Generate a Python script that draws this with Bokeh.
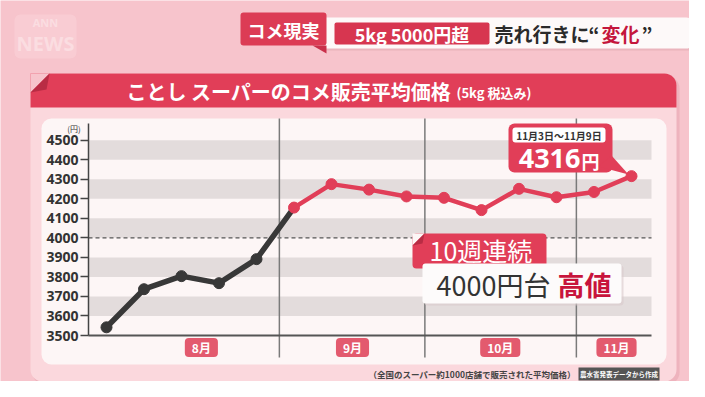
from bokeh.plotting import figure
from bokeh.models import Range1d, LinearAxis, FixedTicker, Label
from bokeh.core.properties import value
from bokeh.embed import file_html
from bokeh.resources import INLINE

# ---------------- data ----------------
weeks = list(range(15))                      # weekly observations (index)
prices = [3542, 3737, 3804, 3768, 3891, 4155, 4275, 4247, 4212, 4205,
          4142, 4251, 4208, 4235, 4316]      # yen / 5kg
streak_start = 5                              # first week at 4000-yen level
months = ["8月", "9月", "10月", "11月"]
month_centers = [2.53, 6.56, 10.5, 13.6]      # in week index units
month_bounds = [4.61, 8.49, 12.53]
y_ticks = list(range(3500, 4501, 100))
band_bottoms = [3600, 3800, 4000, 4200, 4400]
band_tops = [3700, 3900, 4100, 4300, 4500]
last_period = "11月3日～11月9日"

# ---------------- layout helpers ----------------
W, H = 689, 381
JP = "Noto Sans CJK JP"
BG = "#f7c4cc"
PANEL = "#fbd8dd"
WHITE = "#fdf6f6"
RED = "#e13e58"
DARK = "#383838"
BAND = "#e3dcdc"


def cx(px):
    return px


def cy(py):
    return H - py


p = figure(width=W, height=H, x_range=Range1d(0, W), y_range=Range1d(0, H),
           output_backend="svg", toolbar_location=None, min_border=0,
           x_axis_location=None, y_axis_location=None,
           background_fill_color=BG, border_fill_color=BG, outline_line_color=None)
p.grid.visible = False

# data ranges mapped onto the plotting area
PXW = 37.5          # px per week
PXY = 0.1953        # px per yen
wk_start = -cx(106) / PXW
p.extra_x_ranges = {"wk": Range1d(wk_start, wk_start + W / PXW)}
pr_start = 3500 - cy(335) / PXY
p.extra_y_ranges = {"price": Range1d(pr_start, pr_start + H / PXY)}


def box(l, r, t, b, color, radius=0, alpha=1.0):
    p.quad(left=cx(l), right=cx(r), top=cy(t), bottom=cy(b), fill_color=color,
           fill_alpha=alpha, line_color=None, border_radius=radius)


def poly(pts, color, alpha=1.0):
    p.patch(x=[cx(a) for a, b in pts], y=[cy(b) for a, b in pts],
            fill_color=color, fill_alpha=alpha, line_color=None)


def txt(x, y, s, size, color, bold=False, align="left", font=JP):
    p.text(x=[cx(x)], y=[cy(y)], text=[s], text_font=value(font),
           text_font_size=f"{size}px", text_color=color,
           text_font_style="bold" if bold else "normal",
           text_align=align, text_baseline="middle")


# ---------------- background / header ----------------
box(14, 76, 14, 58, "#f9d0d6", radius=6, alpha=0.7)
txt(45, 22, "ANN", 11, "#fbdde1", bold=True, align="center", font="Noto Sans")
txt(45, 43, "NEWS", 20, "#fbdde1", bold=True, align="center", font="Noto Sans")

box(320, 692, 19, 50, "#e3aab3", radius=4, alpha=0.6)
box(318, 690, 17, 48, "#fdf9f9", radius=4)
box(240, 326, 12, 45, "#dc3c55", radius=3)
poly([(312, 45), (326, 45), (326, 53)], "#c9304a")
txt(283, 29, "コメ現実", 18, "white", bold=True, align="center")
box(334, 489, 22, 44, "#d73650", radius=2)
txt(411.5, 33.5, "5kg 5000円超", 18, "white", bold=True, align="center")
txt(494, 33, "売れ行きに", 19, "#2a2a2a", bold=True)
txt(588, 33, "“", 19, "#2a2a2a", bold=True)
txt(601, 33, "変化", 19, "#c4163c", bold=True)
txt(641, 33, "”", 19, "#2a2a2a", bold=True)

# ---------------- panel ----------------
box(32, 679, 76, 384, "#e8a9b3", radius=12, alpha=0.6)
box(30, 676, 73, 381, PANEL, radius=12)
box(30, 676, 73, 107, RED, radius=(0, 12, 0, 0))
poly([(30, 73), (49, 73), (30, 92)], BG)
poly([(49, 73), (30, 92), (46, 89)], "#b92c44")
txt(126, 91, "ことし スーパーのコメ販売平均価格", 20, "white", bold=True)
txt(456, 92, "(5kg 税込み)", 13, "white", bold=True)

box(41, 666, 118, 364, WHITE, radius=10)

# ---------------- chart ----------------
p.quad(left=cx(88), right=cx(651), bottom=band_bottoms, top=band_tops,
       y_range_name="price", fill_color=BAND, line_color=None)
p.segment(x0=cx(88), x1=cx(651), y0=4000, y1=4000, y_range_name="price",
          line_color="#555555", line_width=1.3, line_dash="4 3")
p.segment(x0=month_bounds, x1=month_bounds, y0=cy(118), y1=cy(357),
          x_range_name="wk", line_color="#7a7a7a", line_width=1.5)

yax = LinearAxis(y_range_name="price", fixed_location=cx(88), bounds=(3500, 4585),
                 ticker=FixedTicker(ticks=y_ticks), axis_line_color="#444444",
                 axis_line_width=1.5, major_tick_line_color="#444444",
                 major_tick_line_width=1.5, major_tick_out=8, major_tick_in=0,
                 minor_tick_line_color=None, major_label_standoff=2,
                 major_label_text_font="Noto Sans", major_label_text_font_size="14px",
                 major_label_text_font_style="bold", major_label_text_color="#333333")
p.add_layout(yax, "left")
xax = LinearAxis(y_range_name="price", fixed_location=3500, bounds=(cx(88), cx(651)),
                 ticker=FixedTicker(ticks=[]), axis_line_color="#555555",
                 axis_line_width=2, major_tick_line_color=None,
                 minor_tick_line_color=None, major_label_text_font_size="0px")
p.add_layout(xax, "below")
txt(73.5, 128, "(円)", 8, "#333333", align="center")

p.line(x=weeks[:streak_start + 1], y=prices[:streak_start + 1], x_range_name="wk",
       y_range_name="price", line_color=DARK, line_width=5.5)
p.line(x=weeks[streak_start:], y=prices[streak_start:], x_range_name="wk",
       y_range_name="price", line_color=RED, line_width=4.5)
p.scatter(x=weeks[:streak_start], y=prices[:streak_start], x_range_name="wk",
          y_range_name="price", size=11, fill_color=DARK, line_color=DARK)
p.scatter(x=weeks[streak_start:], y=prices[streak_start:], x_range_name="wk",
          y_range_name="price", size=11, fill_color=RED, line_color=RED)

for m, c in zip(months, month_centers):
    p.add_layout(Label(x=c, y=cy(347), x_range_name="wk", text=m, text_align="center",
                       text_baseline="middle", text_color="white", text_font=JP,
                       text_font_size="12px", text_font_style="bold",
                       background_fill_color="#e35a6e", border_radius=4,
                       padding=dict(left=7, right=7, top=1, bottom=1)))

# ---------------- callouts ----------------
box(508, 612, 123, 172, RED, radius=6)
poly([(598, 166), (611, 155), (628, 174)], RED)
box(512, 605, 127, 142, "white", radius=3)
txt(558.5, 134.5, last_period, 10, "#333333", bold=True, align="center")
txt(580, 158, f"{prices[-1]}", 27, "white", bold=True, align="right", font="Noto Sans")
txt(581, 160, "円", 18, "white", bold=True)

box(412, 546, 233, 268, RED, radius=4)
poly([(412, 233), (424, 233), (412, 245)], WHITE)
poly([(424, 233), (412, 245), (422, 243)], "#b92c44")
txt(429, 249, f"{len(prices) - streak_start}週連続", 25, "white")
box(424, 623, 265, 305, "#d9c9cb", radius=3, alpha=0.6)
box(422, 621, 263, 303, "#fdfbfb", radius=3)
txt(436, 284, "4000円台", 27, "#333333")
txt(557, 284, "高値", 27, "#c8143c", bold=True)

# ---------------- footnotes ----------------
txt(575, 373, "（全国のスーパー約1000店舗で販売された平均価格）", 8.5, "#444444", bold=True, align="right")
box(578, 659, 367, 380, "#555555")
txt(618.5, 373.5, "農水省発表データから作成", 6.5, "white", bold=True, align="center")

open("out.html", "w").write(file_html(p, INLINE))
